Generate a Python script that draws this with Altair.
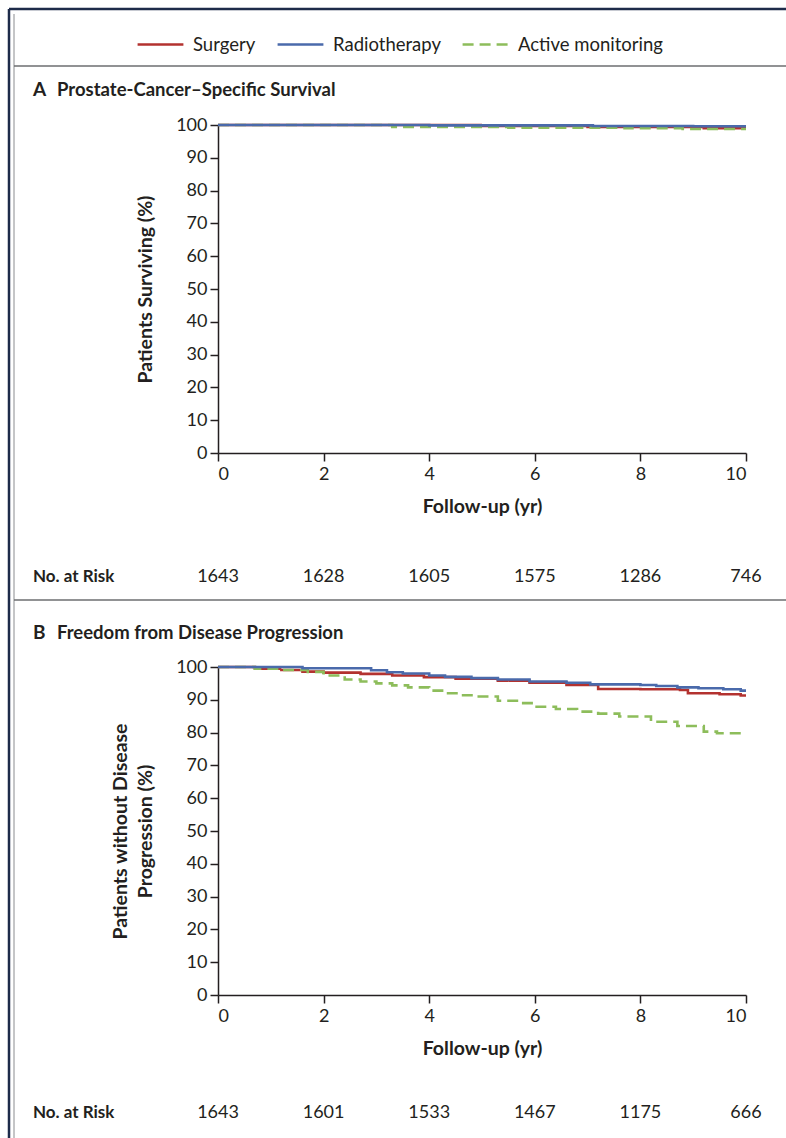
import altair as alt
import pandas as pd

FONT = "Lato"
INK = "#231f20"

groups = ["Surgery", "Radiotherapy", "Active monitoring"]
group_colors = ["#b3322f", "#4a6aab", "#8dbd5b"]
group_dashes = [[1, 0], [1, 0], [11, 6]]

# At-risk counts reported under each panel
risk_years = [0, 2, 4, 6, 8, 10]
risk_a = [1643, 1628, 1605, 1575, 1286, 746]
risk_b = [1643, 1601, 1533, 1467, 1175, 666]

# Panel A: prostate-cancer-specific survival (Kaplan-Meier steps)
a_surgery_t = [0, 5.0, 7.0, 9.2, 10]
a_surgery_v = [100, 99.7, 99.4, 99.0, 99.0]
a_radio_t = [0, 4.0, 7.1, 9.0, 10]
a_radio_v = [100, 99.9, 99.7, 99.6, 99.6]
a_monitor_t = [0, 3.3, 5.5, 7.7, 8.8, 10]
a_monitor_v = [100, 99.4, 99.2, 99.0, 98.8, 98.8]

# Panel B: freedom from disease progression
b_surgery_t = [0, 0.7, 1.2, 1.6, 2.0, 2.7, 3.3, 3.9, 4.5, 5.3, 5.9, 6.6,
               7.2, 8.0, 8.75, 8.9, 9.5, 9.9, 10]
b_surgery_v = [100, 99.5, 99.1, 98.6, 98.3, 97.9, 97.4, 96.9, 96.4, 95.8,
               95.2, 94.5, 93.3, 93.2, 93.0, 92.0, 91.7, 91.3, 91.3]
b_radio_t = [0, 1.6, 2.9, 3.2, 3.5, 4.0, 4.3, 4.8, 5.3, 5.9, 6.6, 7.05,
             8.0, 8.3, 8.7, 9.1, 9.57, 9.9, 10]
b_radio_v = [100, 99.6, 99.0, 98.4, 98.0, 97.4, 97.0, 96.6, 96.2, 95.6,
             95.2, 94.7, 94.5, 94.2, 93.8, 93.5, 93.2, 92.8, 92.8]
b_monitor_t = [0, 0.7, 1.2, 1.7, 2.0, 2.4, 2.7, 3.0, 3.3, 3.6, 4.0, 4.3,
               4.6, 4.9, 5.3, 5.7, 6.0, 6.4, 6.8, 7.2, 7.6, 8.2, 8.7, 9.2,
               9.45, 10]
b_monitor_v = [100, 99.5, 99.1, 98.5, 97.4, 96.2, 95.6, 95.0, 94.4, 93.8,
               92.8, 92.0, 91.4, 91.0, 89.7, 89.0, 87.9, 87.2, 86.4, 85.8,
               84.9, 83.3, 82.0, 80.3, 79.8, 79.8]


def curves(series):
    rows = []
    for name, ts, vs in series:
        for t, v in zip(ts, vs):
            rows.append({"group": name, "t": t, "v": v})
    return pd.DataFrame(rows)


df_a = curves([("Surgery", a_surgery_t, a_surgery_v),
               ("Active monitoring", a_monitor_t, a_monitor_v),
               ("Radiotherapy", a_radio_t, a_radio_v)])
df_b = curves([("Surgery", b_surgery_t, b_surgery_v),
               ("Active monitoring", b_monitor_t, b_monitor_v),
               ("Radiotherapy", b_radio_t, b_radio_v)])
risk_a_df = pd.DataFrame({"year": risk_years, "n": risk_a})
risk_b_df = pd.DataFrame({"year": risk_years, "n": risk_b})

W, H = 528, 870
A_BOTTOM, B_TOP = 328, 542

color = alt.Color("group:N", scale=alt.Scale(domain=groups, range=group_colors),
                  legend=alt.Legend(title=None))
dash = alt.StrokeDash("group:N", scale=alt.Scale(domain=groups, range=group_dashes),
                      legend=alt.Legend(title=None))


def x_enc(field, offset):
    return alt.X(field, title="Follow-up (yr)",
                 scale=alt.Scale(domain=[0, 10], nice=False),
                 axis=alt.Axis(values=risk_years, orient="bottom", offset=offset,
                               grid=False, format="d"))


def panel(df, risk_df, y_range, y_title, offset, risk_y):
    y = alt.Y("v:Q", title=y_title,
              scale=alt.Scale(domain=[0, 100], range=y_range, nice=False),
              axis=alt.Axis(values=list(range(0, 101, 10)), orient="left", grid=False))
    lines = alt.Chart(df).mark_line(interpolate="step-after", strokeWidth=2.6).encode(
        x=x_enc("t:Q", offset), y=y, color=color, strokeDash=dash,
        order=alt.Order("t:Q"))
    risk = alt.Chart(risk_df).mark_text(font=FONT, fontSize=18, color=INK).encode(
        x=x_enc("year:Q", offset),
        y=alt.value(risk_y),
        text=alt.Text("n:Q", format="d"))
    return alt.layer(lines, risk)


panel_a = panel(df_a, risk_a_df, [A_BOTTOM, 0], "Patients Surviving (%)",
                -(H - A_BOTTOM), 452)
panel_b = panel(df_b, risk_b_df, [H, B_TOP],
                ["Patients without Disease", "Progression (%)"], 0, 988)

one = pd.DataFrame({"k": [0]})


def label(text, x, y, bold=True, size=18.5, align="left"):
    return alt.Chart(one).mark_text(
        font=FONT, fontSize=size, fontWeight="bold" if bold else "normal",
        color=INK, align=align, baseline="middle").encode(
        x=alt.value(x), y=alt.value(y), text=alt.value(text))


def line(x1, y1, x2, y2, col, w):
    return alt.Chart(one).mark_rule(color=col, strokeWidth=w).encode(
        x=alt.value(x1), y=alt.value(y1), x2=alt.value(x2), y2=alt.value(y2))


deco = alt.layer(
    line(-209, -116, 568, -116, "#1d2b4a", 2.5),
    line(-209, -116, -209, 1013, "#1d2b4a", 2.5),
    line(-204, -111, -204, 1013, "#8a8c8f", 1),
    line(-204, -59, 568, -59, "#6d6e71", 1.5),
    line(-204, 475, 568, 475, "#6d6e71", 1.5),
    label("A", -185, -35, size=19),
    label("Prostate-Cancer\u2013Specific Survival", -161, -35),
    label("No. at Risk", -185, 452, size=17),
    label("B", -185, 508, size=19),
    label("Freedom from Disease Progression", -161, 508),
    label("No. at Risk", -185, 988, size=17),
)

chart = alt.layer(panel_a, panel_b, deco).resolve_scale(
    x="independent", y="independent"
).properties(
    width=W, height=H,
    autosize=alt.AutoSizeParams(type="none"),
    padding={"left": 218, "top": 125, "right": 40, "bottom": 143},
).configure_view(stroke=None).configure_axis(
    labelFont=FONT, labelFontSize=18, labelColor=INK,
    titleFont=FONT, titleFontSize=19.5, titleFontWeight="bold", titleColor=INK,
    domainColor=INK, domainWidth=1.5, tickColor=INK, tickWidth=1.5, tickSize=8,
    labelPadding=3, titleLineHeight=25,
).configure_axisY(titlePadding=20).configure_axisX(titlePadding=14, labelPadding=4
).configure_legend(
    orient="none", legendX=-82, legendY=-105, direction="horizontal",
    labelFont=FONT, labelFontSize=18.5, labelColor=INK,
    symbolType="stroke", symbolSize=2100, symbolStrokeWidth=2.6,
    columnPadding=16, labelOffset=8,
)

chart.save("out.html", embed_options={"renderer": "svg", "actions": False})
